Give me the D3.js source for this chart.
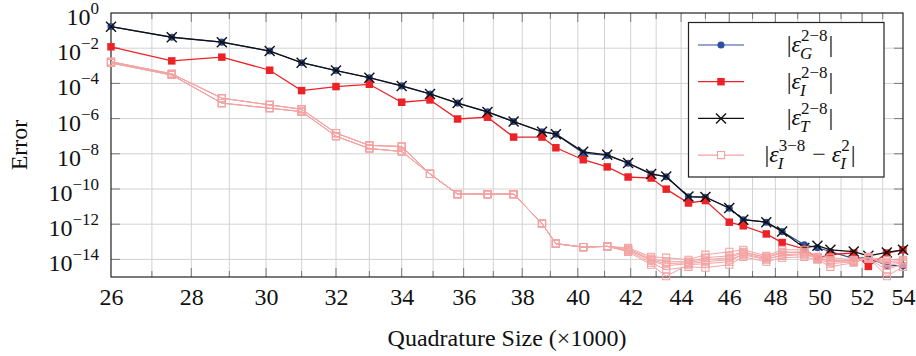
<!DOCTYPE html>
<html>
<head>
<meta charset="utf-8">
<script src="https://cdn.jsdelivr.net/npm/d3@7"></script>
<style>
  body { margin: 0; background: #fff; }
  svg text { font-family: "Liberation Serif", "Times New Roman", Tinos, "DejaVu Serif", "Noto Serif", serif !important; fill: #111; }
</style>
</head>
<body>
<svg id="chart" width="916" height="356"></svg>
<script>
// quadrature size (x1000)
const quadSize = [26.0, 27.5, 28.8, 30.1, 31.0, 32.0, 33.0, 34.0, 34.9, 35.8, 36.8, 37.7, 38.7, 39.2, 40.2, 41.1,
  41.9, 42.8, 43.4, 44.3, 45.0, 46.0, 46.6, 47.6, 48.3, 49.3, 49.9, 50.5, 51.6, 52.3, 53.2, 54.0];

const errG = [1.7e-1, 4.2e-2, 2.2e-2, 6.9e-3, 1.5e-3, 5.4e-4, 2.1e-4, 7.2e-5, 2.5e-5, 7.6e-6, 2.4e-6, 6.8e-7, 1.8e-7, 1.3e-7, 1.1e-8, 8.0e-9,
  2.9e-9, 7.0e-10, 5.0e-10, 3.6e-11, 3.4e-11, 8.0e-12, 1.8e-12, 1.3e-12, 3.8e-13, 6.8e-14, 4.6e-14, 2.8e-14, 1.1e-14, 1.3e-14, 4.4e-15, 4.4e-15];
const errI = [1.2e-2, 1.9e-3, 3.1e-3, 5.6e-4, 3.9e-5, 6.6e-5, 8.9e-5, 8.5e-6, 1.15e-5, 9.5e-7, 1.2e-6, 8.9e-8, 8.9e-8, 2.2e-8, 4.6e-9, 1.8e-9,
  4.8e-10, 4.2e-10, 9.8e-11, 1.6e-11, 2.2e-11, 1.3e-12, 8.1e-13, 2.8e-13, 9.1e-14, 3.9e-14, 1.2e-14, 1.9e-14, 2.3e-14, 4.0e-15, 2.3e-14, 3.5e-14];
const errT = [1.66e-1, 4.2e-2, 2.2e-2, 6.9e-3, 1.5e-3, 5.4e-4, 2.1e-4, 7.2e-5, 2.5e-5, 7.6e-6, 2.4e-6, 6.8e-7, 1.8e-7, 1.3e-7, 1.3e-8, 8.7e-9,
  3.0e-9, 7.2e-10, 5.1e-10, 3.7e-11, 3.5e-11, 8.3e-12, 1.8e-12, 1.3e-12, 3.9e-13, 4.5e-14, 6.0e-14, 3.5e-14, 2.8e-14, 1.6e-14, 2.5e-14, 3.5e-14];

// |eps_I^k - eps_I^2|, k = 3..8
const diffI3 = [1.7e-3, 3.5e-4, 1.45e-5, 6.0e-6, 3.4e-6, 1.5e-7, 3.0e-8, 2.6e-8, 7.2e-10, 5.1e-11, 5.1e-11, 5.1e-11, 1.1e-12, 7.8e-14, 5.0e-14, 5.5e-14,
  4.6e-14, 1.4e-14, 1.25e-14, 9.6e-15, 1.85e-14, 2.7e-14, 3.5e-14, 1.6e-14, 3.5e-14, 3.5e-14, 1.4e-14, 1.25e-14, 9.6e-15, 1.25e-14, 9.6e-15, 9.6e-15];
const diffI4 = [1.45e-3, 3.0e-4, 7.6e-6, 3.9e-6, 2.5e-6, 1.0e-7, 2.0e-8, 1.35e-8, 7.2e-10, 5.1e-11, 5.1e-11, 5.1e-11, 1.1e-12, 7.8e-14, 5.0e-14, 5.5e-14,
  4.1e-14, 1.1e-14, 7.4e-15, 7.4e-15, 1.25e-14, 1.6e-14, 2.7e-14, 1.25e-14, 2.4e-14, 2.7e-14, 1.25e-14, 8.5e-15, 8.5e-15, 1.25e-14, 5.7e-15, 7.4e-15];
const diffI5 = [1.7e-3, 3.5e-4, 1.45e-5, 6.0e-6, 3.4e-6, 1.5e-7, 3.0e-8, 2.6e-8, 7.2e-10, 5.1e-11, 5.1e-11, 5.1e-11, 1.1e-12, 7.8e-14, 5.0e-14, 5.5e-14,
  3.5e-14, 8.5e-15, 4.4e-15, 5.7e-15, 7.4e-15, 9.6e-15, 1.85e-14, 9.6e-15, 1.85e-14, 2.1e-14, 1.1e-14, 5.7e-15, 7.4e-15, 1.1e-14, 2.6e-15, 5.7e-15];
const diffI6 = [1.45e-3, 3.0e-4, 7.6e-6, 3.9e-6, 2.5e-6, 1.0e-7, 2.0e-8, 1.35e-8, 7.2e-10, 5.1e-11, 5.1e-11, 5.1e-11, 1.1e-12, 7.8e-14, 5.0e-14, 5.5e-14,
  3.1e-14, 6.5e-15, 2.6e-15, 3.8e-15, 3.4e-15, 5.0e-15, 1.4e-14, 7.4e-15, 1.25e-14, 1.4e-14, 9.6e-15, 3.8e-15, 6.5e-15, 1.25e-14, 1.1e-15, 3.8e-15];
const diffI7 = [1.7e-3, 3.5e-4, 1.45e-5, 6.0e-6, 3.4e-6, 1.5e-7, 3.0e-8, 2.6e-8, 7.2e-10, 5.1e-11, 5.1e-11, 5.1e-11, 1.1e-12, 7.8e-14, 5.0e-14, 5.5e-14,
  2.7e-14, 5.0e-15, 1.1e-15, 5.0e-15, 5.7e-15, 7.4e-15, 2.1e-14, 1.1e-14, 1.6e-14, 1.85e-14, 1.25e-14, 7.4e-15, 8.5e-15, 1.4e-14, 4.4e-15, 6.5e-15];
const diffI8 = [1.45e-3, 3.0e-4, 7.6e-6, 3.9e-6, 2.5e-6, 1.0e-7, 2.0e-8, 1.35e-8, 7.2e-10, 5.1e-11, 5.1e-11, 5.1e-11, 1.1e-12, 7.8e-14, 5.0e-14, 5.5e-14,
  3.5e-14, 9.6e-15, 5.7e-15, 6.5e-15, 9.6e-15, 1.25e-14, 2.4e-14, 1.4e-14, 2.7e-14, 2.4e-14, 1.1e-14, 9.6e-15, 7.4e-15, 1.1e-14, 7.4e-15, 8.5e-15];

const xTickLabels = [26, 28, 30, 32, 34, 36, 38, 40, 42, 44, 46, 48, 50, 52, 54];
const yTickExps = [0, -2, -4, -6, -8, -10, -12, -14];

const BLUE = "#2f4fa2", RED = "#ec2227", PINK = "#f4a3a3";

const svg = d3.select("#chart");
const pL = 111, pR = 903, pT = 13, pB = 277;

const x = d3.scaleLog().domain([26, 54]).range([pL, pR]);
const y = d3.scaleLog().domain([1e-15, 1]).range([pB, pT]);

// grid
const xMinor = d3.range(27, 54);
svg.append("g").selectAll("line").data(xMinor).join("line")
  .attr("x1", d => x(d)).attr("x2", d => x(d))
  .attr("y1", pT).attr("y2", pB)
  .attr("stroke", "#d2d2d2").attr("stroke-width", 1);
svg.append("g").selectAll("line").data(yTickExps.slice(1)).join("line")
  .attr("x1", pL).attr("x2", pR)
  .attr("y1", d => y(Math.pow(10, d))).attr("y2", d => y(Math.pow(10, d)))
  .attr("stroke", "#d2d2d2").attr("stroke-width", 1);

// tick marks (inside, top & bottom, left & right)
const ticks = svg.append("g").attr("stroke", "#7a7a7a").attr("stroke-width", 1);
xMinor.forEach(d => {
  const len = d % 2 === 0 ? 9 : 6;
  ticks.append("line").attr("x1", x(d)).attr("x2", x(d)).attr("y1", pB).attr("y2", pB - len);
  ticks.append("line").attr("x1", x(d)).attr("x2", x(d)).attr("y1", pT).attr("y2", pT + len);
});
yTickExps.slice(1).forEach(e => {
  const yy = y(Math.pow(10, e));
  ticks.append("line").attr("x1", pL).attr("x2", pL + 9).attr("y1", yy).attr("y2", yy);
  ticks.append("line").attr("x1", pR).attr("x2", pR - 9).attr("y1", yy).attr("y2", yy);
});

// frame
svg.append("rect").attr("x", pL).attr("y", pT)
  .attr("width", pR - pL).attr("height", pB - pT)
  .attr("fill", "none").attr("stroke", "#222").attr("stroke-width", 1.2);

// x axis labels
const xAxis = svg.append("g").attr("transform", `translate(0,${pB})`)
  .call(d3.axisBottom(x).tickValues(xTickLabels).tickFormat(d3.format("d")).tickSize(0));
xAxis.select(".domain").remove();
xAxis.attr("font-family", null).attr("font-size", null);
xAxis.selectAll("text")
  .attr("y", 28).attr("dy", 0)
  .style("font-size", "24px").attr("fill", "#111");

// helper: text with italic, super/subscripts, measured piece by piece
function mathText(parent, px, py, parts, anchor) {
  const g = parent.append("g");
  let cx = 0;
  const put = (str, dx, dy, size, italic) => {
    const t = g.append("text").attr("x", cx + dx).attr("y", dy)
      .style("white-space", "pre")
      .style("font-size", size + "px").style("font-style", italic ? "italic" : "normal").text(str);
    return t.node().getComputedTextLength();
  };
  parts.forEach(p => {
    if (p.script) {
      const w1 = p.sup ? put(p.sup, 0, -11, 17, false) : 0;
      const w2 = p.sub ? put(p.sub, -1, 7, 17, true) : 0;
      cx += Math.max(w1, w2) + 1;
    } else {
      cx += put(p.t, 0, 0, 24, p.it);
    }
  });
  const shift = anchor === "middle" ? -cx / 2 : anchor === "end" ? -cx : 0;
  g.attr("transform", `translate(${px + shift},${py})`);
  return g;
}

// y tick labels 10^e
yTickExps.forEach(e => {
  const sup = e === 0 ? "0" : "\u2212" + (-e);
  mathText(svg, pL - 11, y(Math.pow(10, e)) + 12, [{ t: "10" }, { script: true, sup: sup }], "end");
});

// axis titles
svg.append("text").attr("x", (pL + pR) / 2).attr("y", 346)
  .attr("text-anchor", "middle").style("font-size", "24px").text("Quadrature Size (\u00d71000)");
svg.append("text").attr("transform", `translate(27,${(pT + pB) / 2}) rotate(-90)`)
  .attr("text-anchor", "middle").style("font-size", "24px").text("Error");

// series
const line = d3.line().x(d => x(d[0])).y(d => y(d[1]));
const pts = arr => quadSize.map((q, i) => [q, arr[i]]);

const crossPath = "M-5,-5L5,5M-5,5L5,-5";
function drawMarkers(g, data, kind, color) {
  const m = g.append("g").selectAll("path").data(data).join("path")
    .attr("transform", d => `translate(${x(d[0])},${y(d[1])})`);
  if (kind === "circle") m.attr("d", d3.symbol(d3.symbolCircle, 40)()).attr("fill", color);
  if (kind === "square") m.attr("d", d3.symbol(d3.symbolSquare, 56)()).attr("fill", color);
  if (kind === "open") m.attr("d", d3.symbol(d3.symbolSquare, 50)()).attr("fill", "none").attr("stroke", color).attr("stroke-width", 1.1);
  if (kind === "cross") m.attr("d", crossPath).attr("fill", "none").attr("stroke", color).attr("stroke-width", 1.4);
}

const series = [
  { data: errG, color: BLUE, kind: "circle", width: 1.2 },
  { data: errI, color: RED, kind: "square", width: 1.3 },
  { data: errT, color: "#111", kind: "cross", width: 1.3 },
  { data: diffI3, color: PINK, kind: "open", width: 1 },
  { data: diffI4, color: PINK, kind: "open", width: 1 },
  { data: diffI5, color: PINK, kind: "open", width: 1 },
  { data: diffI6, color: PINK, kind: "open", width: 1 },
  { data: diffI7, color: PINK, kind: "open", width: 1 },
  { data: diffI8, color: PINK, kind: "open", width: 1 }
];
const plot = svg.append("g");
series.forEach(s => {
  const g = plot.append("g");
  g.append("path").datum(pts(s.data)).attr("d", line)
    .attr("fill", "none").attr("stroke", s.color).attr("stroke-width", s.width);
  drawMarkers(g, pts(s.data), s.kind, s.color);
});

// legend
const lg = svg.append("g");
lg.append("rect").attr("x", 688.5).attr("y", 22.5).attr("width", 195.5).attr("height", 154.5)
  .attr("fill", "#fff").attr("stroke", "#222").attr("stroke-width", 1.2);
const legendItems = [
  { color: BLUE, kind: "circle", parts: [{ t: "|" }, { t: "\u03b5", it: true }, { script: true, sup: "2\u22128", sub: "G" }, { t: "|" }] },
  { color: RED, kind: "square", parts: [{ t: "|" }, { t: "\u03b5", it: true }, { script: true, sup: "2\u22128", sub: "I" }, { t: "|" }] },
  { color: "#111", kind: "cross", parts: [{ t: "|" }, { t: "\u03b5", it: true }, { script: true, sup: "2\u22128", sub: "T" }, { t: "|" }] },
  { color: PINK, kind: "open", parts: [{ t: "|" }, { t: "\u03b5", it: true }, { script: true, sup: "3\u22128", sub: "I" },
    { t: "\u00a0\u2212\u00a0" }, { t: "\u03b5", it: true }, { script: true, sup: "2", sub: "I" }, { t: "|" }] }
];
legendItems.forEach((it, i) => {
  const ry = 45 + i * 36.7;
  lg.append("line").attr("x1", 698).attr("x2", 744).attr("y1", ry).attr("y2", ry)
    .attr("stroke", it.color).attr("stroke-width", 1.2);
  const m = lg.append("path").attr("transform", `translate(721,${ry})`);
  if (it.kind === "circle") m.attr("d", d3.symbol(d3.symbolCircle, 40)()).attr("fill", it.color);
  if (it.kind === "square") m.attr("d", d3.symbol(d3.symbolSquare, 56)()).attr("fill", it.color);
  if (it.kind === "open") m.attr("d", d3.symbol(d3.symbolSquare, 50)()).attr("fill", "#fff").attr("stroke", it.color).attr("stroke-width", 1.1);
  if (it.kind === "cross") m.attr("d", crossPath).attr("fill", "none").attr("stroke", it.color).attr("stroke-width", 1.4);
  mathText(lg, 810, ry + 7, it.parts, "middle");
});
</script>
</body>
</html>
